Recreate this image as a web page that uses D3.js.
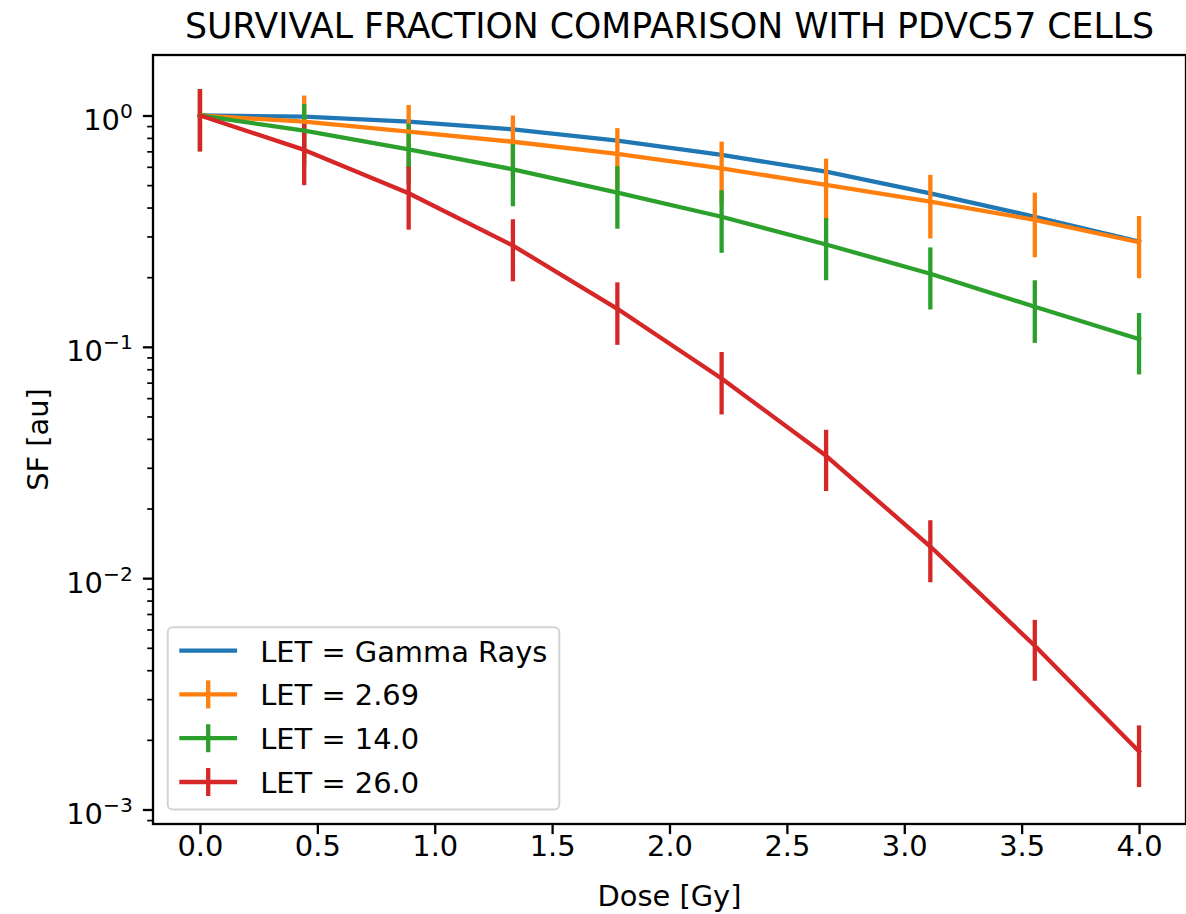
<!DOCTYPE html>
<html>
<head>
<meta charset="utf-8">
<script src="https://cdn.jsdelivr.net/npm/d3@7"></script>
<style>
body { margin:0; background:#fff; }
svg { display:block; font-family:"DejaVu Sans", sans-serif; }
</style>
</head>
<body>
<div id="chart"></div>
<script>
// data
var dose = [0, 0.444, 0.889, 1.333, 1.778, 2.222, 2.667, 3.111, 3.556, 4.0];

var sfGamma  = [1.0, 0.988, 0.940, 0.871, 0.778, 0.675, 0.572, 0.461, 0.365, 0.285];
var sfLet269 = [1.0, 0.940, 0.851, 0.770, 0.682, 0.591, 0.501, 0.424, 0.354, 0.283];
var sfLet14  = [1.0, 0.860, 0.714, 0.585, 0.464, 0.365, 0.277, 0.207, 0.149, 0.108];
var sfLet26  = [1.0, 0.710, 0.461, 0.274, 0.146, 0.073, 0.0338, 0.0137, 0.0051, 0.00178];

var errLet269 = [0.30, 0.28, 0.26, 0.23, 0.20, 0.18, 0.15, 0.13, 0.11, 0.085];
var errLet14  = [0.30, 0.26, 0.21, 0.18, 0.14, 0.11, 0.083, 0.062, 0.045, 0.032];
var errLet26  = [0.30, 0.21, 0.14, 0.082, 0.044, 0.022, 0.010, 0.0041, 0.0015, 0.00053];

var seriesNames = ["LET = Gamma Rays", "LET = 2.69", "LET = 14.0", "LET = 26.0"];
var colors = ["#1f77b4", "#ff7f0e", "#2ca02c", "#d62728"];

var xTicks = [0, 0.5, 1.0, 1.5, 2.0, 2.5, 3.0, 3.5, 4.0];
var yTicks = [1e-3, 1e-2, 1e-1, 1];
var yTickExp = ["\u22123", "\u22122", "\u22121", "0"];

var titleText = "SURVIVAL FRACTION COMPARISON WITH PDVC57 CELLS";
var xLabelText = "Dose [Gy]";
var yLabelText = "SF [au]";

var series = [
    { name: seriesNames[0], values: sfGamma,  err: null,      color: colors[0] },
    { name: seriesNames[1], values: sfLet269, err: errLet269, color: colors[1] },
    { name: seriesNames[2], values: sfLet14,  err: errLet14,  color: colors[2] },
    { name: seriesNames[3], values: sfLet26,  err: errLet26,  color: colors[3] }
];

// sizes (matplotlib at ~208 dpi)
var fs = 28.9;
var lw = 4.3;
var margin = { left:153, right:0, top:55, bottom:90 };
var W = 1186, H = 914;
var w = W - margin.left - margin.right;
var h = H - margin.top - margin.bottom;

var svg = d3.select("#chart")
    .append("svg")
    .attr("width", W)
    .attr("height", H);

var g = svg.append("g")
    .attr("transform", "translate(" + margin.left + "," + margin.top + ")");

var xScale = d3.scaleLinear()
    .domain([-0.2, 4.2])
    .range([0, w]);

var yScale = d3.scaleLog()
    .domain([Math.pow(10, -3.0627), Math.pow(10, 0.2615)])
    .range([h, 0]);

//---------- minor ticks on the log axis
var minor = [];
for (var k = -4; k <= 0; k++) {
    for (var m = 2; m <= 9; m++) {
        var v = m * Math.pow(10, k);
        if (v >= yScale.domain()[0] && v <= yScale.domain()[1]) minor.push(v);
    }
}

var yMinorGroup = g.append("g")
    .call(d3.axisLeft(yScale).tickValues(minor).tickFormat("").tickSize(5.8).tickSizeOuter(0));
yMinorGroup.selectAll("line").attr("stroke-width", 1.7);
yMinorGroup.select(".domain").remove();

//---------- Y axis
var yAxisGroup = g.append("g")
    .call(d3.axisLeft(yScale).tickValues(yTicks).tickSize(10.1).tickPadding(10.1).tickSizeOuter(0));
yAxisGroup.attr("font-size", null).attr("font-family", null);
yAxisGroup.select(".domain").remove();
yAxisGroup.selectAll("line").attr("stroke-width", 2.3);
yAxisGroup.selectAll("text")
    .attr("dy", null)
    .attr("y", 14)
    .attr("font-size", fs)
    .attr("fill", "#000")
    .each(function(d, i) {
        var t = d3.select(this).text(null);
        t.append("tspan").text("10");
        t.append("tspan").attr("dy", -12).attr("font-size", fs * 0.7).text(yTickExp[i]);
    });

//---------- X axis
var xAxisGroup = g.append("g")
    .attr("transform", "translate(0," + h + ")")
    .call(d3.axisBottom(xScale).tickValues(xTicks).tickFormat(d3.format(".1f"))
        .tickSize(10.1).tickPadding(10.1).tickSizeOuter(0));
xAxisGroup.attr("font-size", null).attr("font-family", null);
xAxisGroup.select(".domain").remove();
xAxisGroup.selectAll("line").attr("stroke-width", 2.3);
xAxisGroup.selectAll("text")
    .attr("dy", null)
    .attr("y", 32)
    .attr("font-size", fs)
    .attr("fill", "#000");

//---------- lines and error bars
var line = d3.line()
    .x(function(d, i) { return xScale(dose[i]); })
    .y(function(d) { return yScale(d); });

// gamma rays: plain line (zorder 2)
g.append("path")
    .datum(series[0].values)
    .attr("fill", "none")
    .attr("stroke", series[0].color)
    .attr("stroke-width", lw)
    .attr("stroke-linejoin", "round")
    .attr("stroke-linecap", "square")
    .attr("d", line);

// error bars sit below the errorbar data lines
series.slice(1).forEach(function(s) {
    g.append("g").selectAll("line")
        .data(s.values)
        .enter()
        .append("line")
        .attr("x1", function(d, i) { return xScale(dose[i]); })
        .attr("x2", function(d, i) { return xScale(dose[i]); })
        .attr("y1", function(d, i) { return yScale(d + s.err[i]); })
        .attr("y2", function(d, i) { return yScale(d - s.err[i]); })
        .attr("stroke", s.color)
        .attr("stroke-width", lw);
});

series.slice(1).forEach(function(s) {
    g.append("path")
        .datum(s.values)
        .attr("fill", "none")
        .attr("stroke", s.color)
        .attr("stroke-width", lw)
        .attr("stroke-linejoin", "round")
        .attr("stroke-linecap", "square")
        .attr("d", line);
});

//---------- spines
g.append("rect")
    .attr("x", 0)
    .attr("y", 0)
    .attr("width", w)
    .attr("height", h)
    .attr("fill", "none")
    .attr("stroke", "#000")
    .attr("stroke-width", 2.3);

//---------- legend
var legend = g.append("g")
    .attr("class", "legend")
    .attr("transform", "translate(" + 14.7 + "," + (h - 14.4 - 182.3) + ")");

legend.append("rect")
    .attr("width", 391.6)
    .attr("height", 182.3)
    .attr("rx", 5)
    .attr("fill", "#fff")
    .attr("fill-opacity", 0.8)
    .attr("stroke", "#d3d3d3")
    .attr("stroke-width", 2);

var rows = legend.selectAll(".row")
    .data(series)
    .enter()
    .append("g")
    .attr("class", "row")
    .attr("transform", function(d, i) { return "translate(0," + (23.3 + i * 43.8) + ")"; });

rows.append("line")
    .attr("x1", 11.6)
    .attr("x2", 69.4)
    .attr("stroke", function(d) { return d.color; })
    .attr("stroke-width", lw);

rows.filter(function(d) { return d.err !== null; })
    .append("line")
    .attr("x1", 40.5)
    .attr("x2", 40.5)
    .attr("y1", -14)
    .attr("y2", 14)
    .attr("stroke", function(d) { return d.color; })
    .attr("stroke-width", lw);

rows.append("text")
    .attr("x", 92.5)
    .attr("y", 11)
    .attr("font-size", fs)
    .attr("fill", "#000")
    .text(function(d) { return d.name; });

//---------- labels
svg.append("text")
    .attr("x", margin.left + w / 2)
    .attr("y", 37.7)
    .attr("text-anchor", "middle")
    .attr("font-size", 34.7)
    .attr("fill", "#000")
    .text(titleText);

svg.append("text")
    .attr("x", margin.left + w / 2)
    .attr("y", 906)
    .attr("text-anchor", "middle")
    .attr("font-size", fs)
    .attr("fill", "#000")
    .text(xLabelText);

svg.append("text")
    .attr("transform", "translate(47.7," + (margin.top + h / 2) + ") rotate(-90)")
    .attr("text-anchor", "middle")
    .attr("font-size", fs)
    .attr("fill", "#000")
    .text(yLabelText);
</script>
</body>
</html>
